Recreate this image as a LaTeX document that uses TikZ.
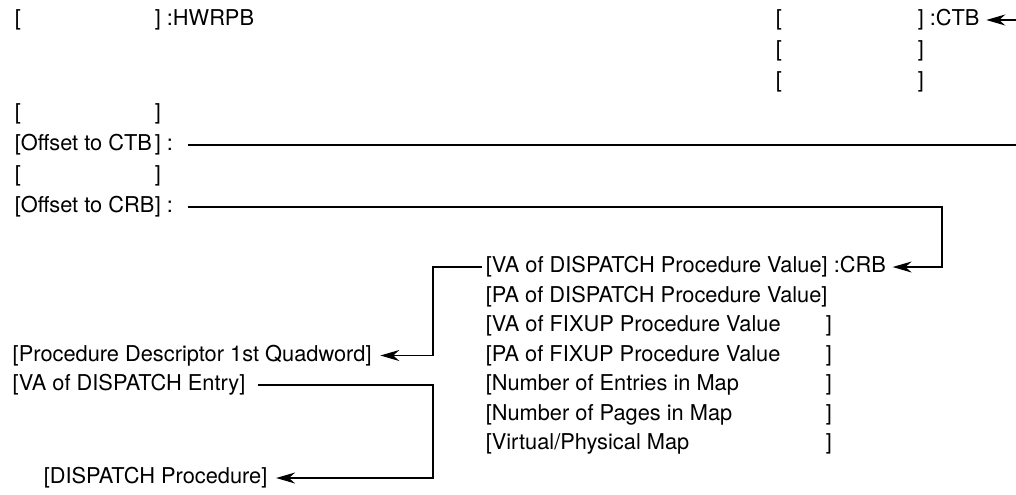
\documentclass[tikz,border=0pt]{standalone}
\usepackage{fontspec}
\setmainfont{TeX Gyre Heros}
\usetikzlibrary{arrows.meta, calc}
\newlength{\hwlen}\setlength{\hwlen}{70pt}
\newlength{\ctblen}\setlength{\ctblen}{71pt}
\newlength{\crblen}\setlength{\crblen}{170pt}
\newcommand{\fld}[2]{\makebox[#1][l]{[#2}]}
\newcommand{\lblfont}{\fontsize{10.9}{12}\selectfont}
\tikzset{
  every picture/.style={x=0.5pt, y=-0.5pt, line width=0.75pt},
  lbl/.style={anchor=west, inner sep=0pt, font=\lblfont},
  wire/.style={draw=black, line width=0.75pt},
  arrow/.style={wire, -{Stealth[length=9.5pt, width=5.5pt]}},
}

\begin{document}
\begin{tikzpicture}
  \useasboundingbox (0,0) rectangle (1016,494);
  % hwrpb
  \node[lbl] (hwrpb) at (14,20) {\fld{\hwlen}{} :HWRPB};
  \node[lbl] (hw1) at (14,114) {\fld{\hwlen}{}};
  \node[lbl] (octb) at (14,145) {\fld{\hwlen}{Offset to CTB} :};
  \node[lbl] (hw3) at (14,176) {\fld{\hwlen}{}};
  \node[lbl] (ocrb) at (14,207) {\fld{\hwlen}{Offset to CRB} :};
  % ctb
  \node[lbl] (ctb) at (775,20) {\fld{\ctblen}{} :CTB};
  \node[lbl] (ctb1) at (775,51) {\fld{\ctblen}{}};
  \node[lbl] (ctb2) at (775,82) {\fld{\ctblen}{}};
  % crb
  \node[lbl] (crb) at (485,267) {[VA of DISPATCH Procedure Value] :CRB};
  \node[lbl] (crb1) at (485,296.5) {[PA of DISPATCH Procedure Value]};
  \node[lbl] (crb2) at (485,326) {\fld{\crblen}{VA of FIXUP Procedure Value}};
  \node[lbl] (crb3) at (485,355.5) {\fld{\crblen}{PA of FIXUP Procedure Value}};
  \node[lbl] (crb4) at (485,385) {\fld{\crblen}{Number of Entries in Map}};
  \node[lbl] (crb5) at (485,414.5) {\fld{\crblen}{Number of Pages in Map}};
  \node[lbl] (crb6) at (485,444) {\fld{\crblen}{Virtual/Physical Map}};
  % dispatch
  \node[lbl] (pdq) at (12,355.5) {[Procedure Descriptor 1st Quadword]};
  \node[lbl] (vade) at (12,385) {[VA of DISPATCH Entry]};
  \node[lbl] (dproc) at (43,478) {[DISPATCH Procedure]};
  % links
  \coordinate (ctbin) at (1016,20);
  \coordinate (ctbout) at (1016,145);
  \coordinate (crbbend) at (942,0);
  \coordinate (dbend) at (433,0);
  \draw[arrow] (ctbin) -- ([xshift=3pt]ctb.east);
  \draw[wire] ([xshift=7pt]octb.east) -- (octb.east -| ctbout);
  \draw[arrow] ([xshift=7pt]ocrb.east) -| (crbbend |- crb.east) -- ([xshift=3pt]crb.east);
  \draw[arrow] ([xshift=-1.5pt]crb.west) -| (dbend |- pdq.east) -- ([xshift=4pt]pdq.east);
  \draw[arrow] ([xshift=6pt]vade.east) -| (dbend |- dproc.east) -- ([xshift=4pt]dproc.east);
\end{tikzpicture}
\end{document}
